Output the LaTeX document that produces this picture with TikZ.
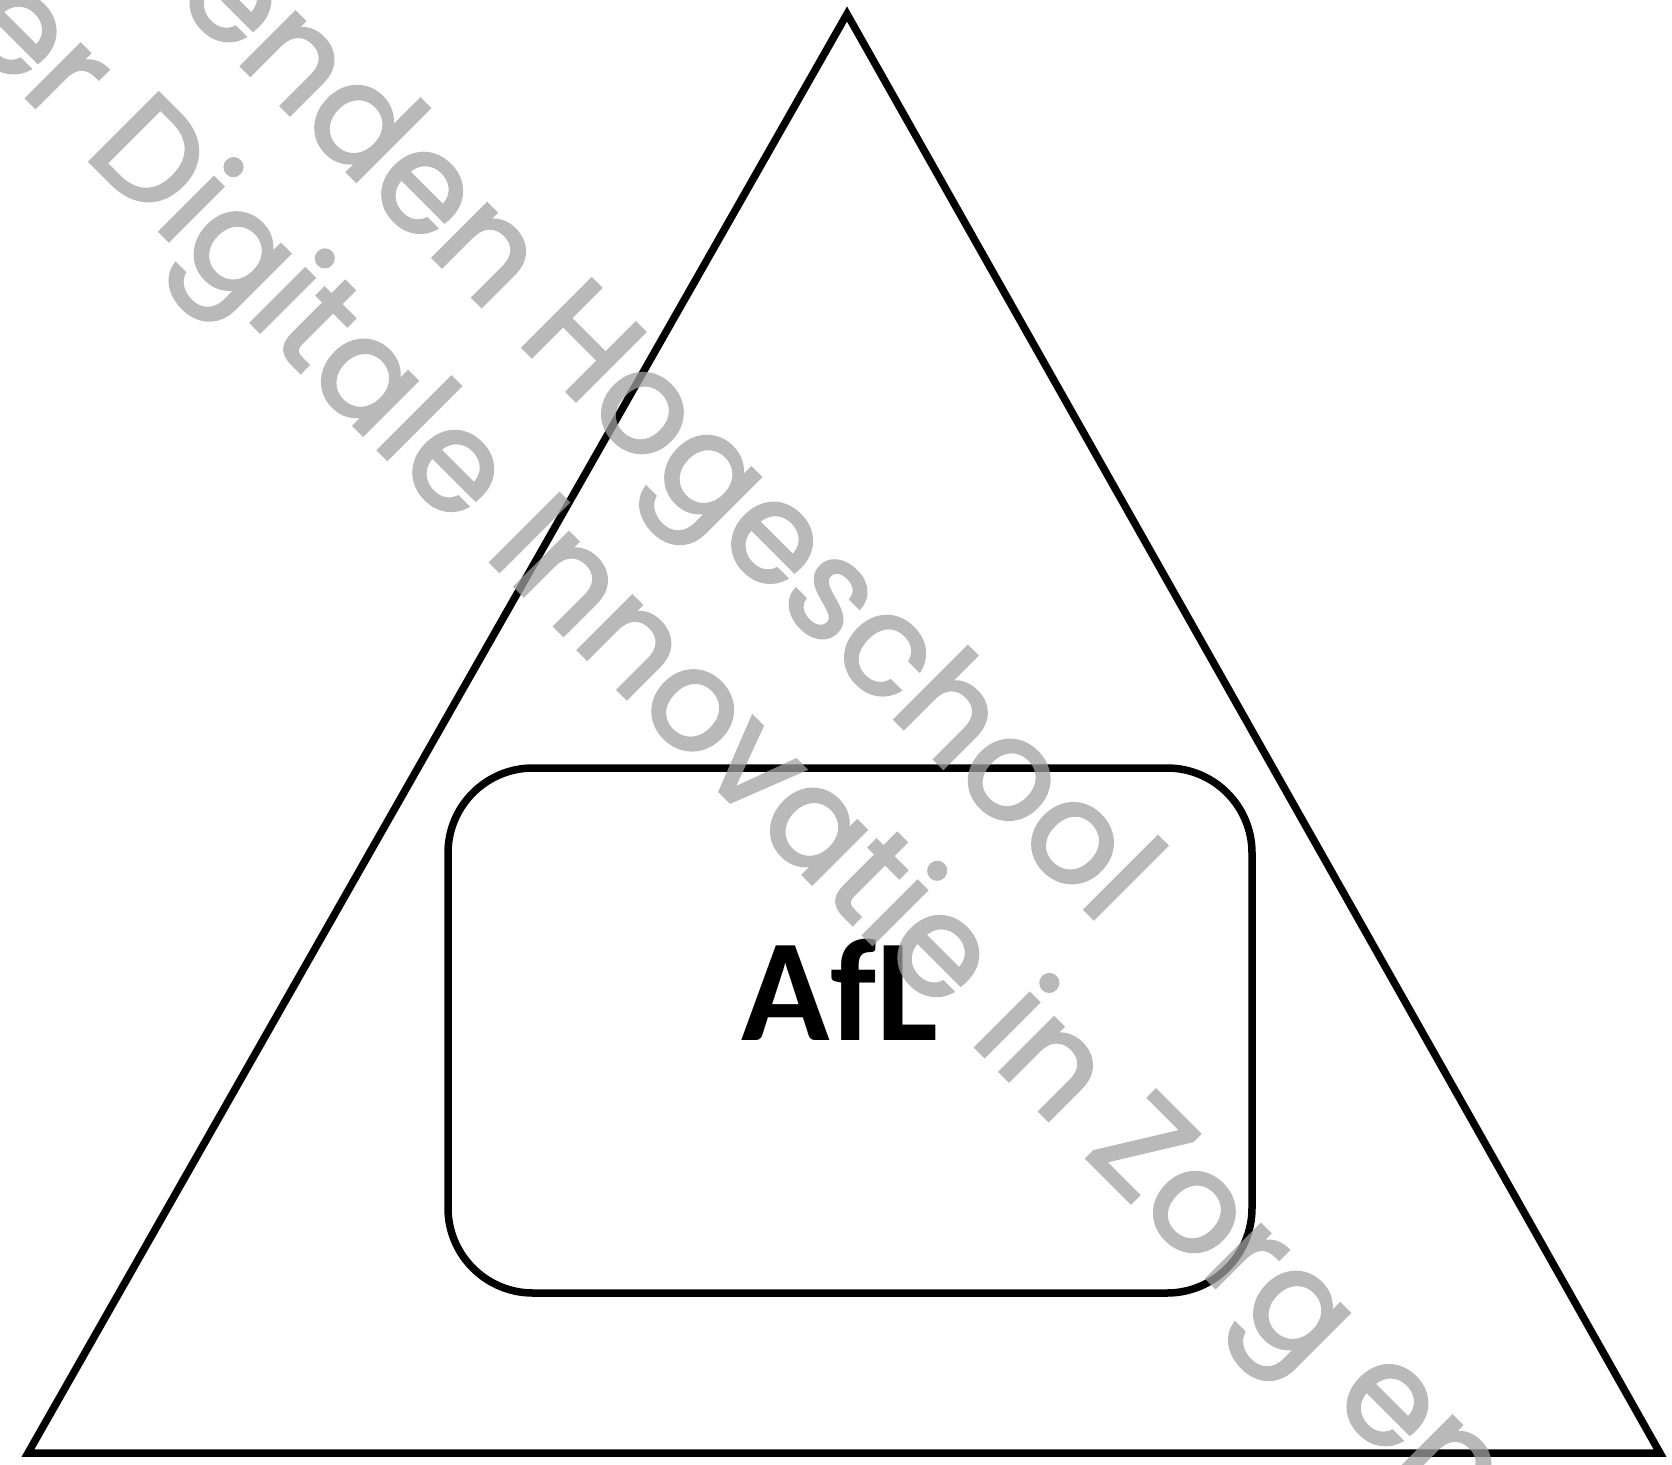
\documentclass[tikz,border=0pt]{standalone}
\usepackage{fontspec}
\newfontfamily\aflfont{Carlito}
\newfontfamily\markfont[FakeBold=2]{Poppins}

\begin{document}
\begin{tikzpicture}
    [x=1pt, y=-1pt,
     edge/.style={draw=black, line width=7.5pt, line join=miter},
     box/.style={edge, rectangle, rounded corners=85pt, minimum width=804pt, minimum height=525pt, inner sep=0pt},
     word/.style={font=\aflfont\bfseries\fontsize{146}{146}\selectfont, inner sep=0pt},
     stamp/.style={font=\markfont\fontsize{140}{150}\selectfont, text=black!37, inner sep=0pt, anchor=base west, rotate=-45}]
    \useasboundingbox (0,0) rectangle (1672,1464);
    % triangle
    \coordinate (top) at (847,14);
    \coordinate (left) at (28,1453);
    \coordinate (right) at (1660,1453);
    \draw[edge] (top) -- (left) -- (right) -- cycle;
    % inner box and its text
    \node[box] (frame) at (850,1030.5) {};
    \node[word, anchor=base] (afl) at (840,1040) {AfL};
    % watermark
    \begin{scope}[transparency group, opacity=0.75]
        \clip (0,0) rectangle (1672,1464);
        \node[stamp] (stampone) at (515,340) {\llap{enden }Hogeschool};
        \node[stamp] (stamptwo) at (82,154) {\llap{er }Digitale Innovatie in Zorg en};
    \end{scope}
\end{tikzpicture}
\end{document}
